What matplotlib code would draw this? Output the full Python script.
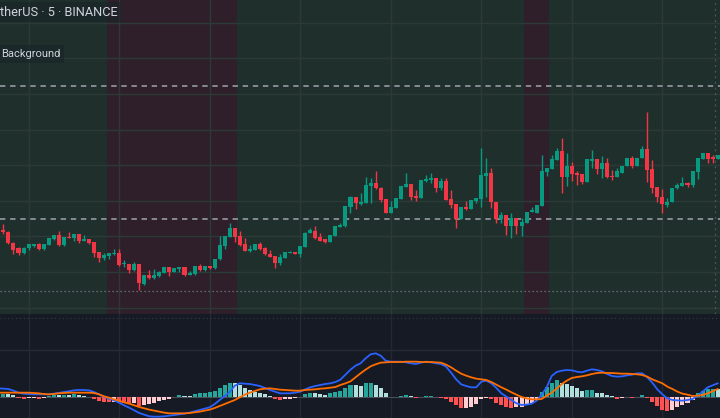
import numpy as np
import matplotlib
matplotlib.use("Agg")
import matplotlib.pyplot as plt

# ----------------------------- Data -----------------------------
# 5-minute candles (left to right)
opens = [1762, 1770.5, 1768.5, 1757.5, 1752, 1747, 1752, 1754.5, 1756, 1750.7,
         1755.5, 1761, 1765, 1755, 1763.3, 1761.7, 1766, 1759.3, 1761, 1757.7,
         1748, 1742.3, 1744, 1746.5, 1747.3, 1735.7, 1736, 1730, 1736, 1716,
         1725, 1722.3, 1724, 1727.3, 1732.7, 1728.3, 1730.7, 1732.7, 1725.5, 1726,
         1734, 1730, 1734, 1731.7, 1740.7, 1754, 1763.3, 1771.7, 1764, 1756,
         1749, 1750, 1756, 1751.7, 1746.5, 1744, 1737, 1742.5, 1747.3, 1748.3,
         1746, 1753.3, 1767.3, 1769.3, 1762.7, 1760.7, 1758.3, 1764.3, 1773.3, 1774.5,
         1793, 1803.3, 1796, 1797.5, 1814.5, 1817.3, 1812, 1800.7, 1787.3, 1792.5,
         1801, 1813.3, 1815.7, 1804.3, 1802.3, 1819, 1820, 1822.3, 1812, 1819,
         1801, 1795.7, 1781, 1793, 1791.3, 1799.5, 1801, 1824.3, 1826.7, 1798.3,
         1781, 1785, 1774, 1782.3, 1774.5, 1777.3, 1788, 1787.5, 1794.3, 1828.3,
         1831, 1840, 1849, 1823.3, 1834, 1827.3, 1826, 1818.3, 1839.5, 1840.7,
         1831, 1837.3, 1824, 1823.3, 1827.3, 1834, 1841.7, 1834.3, 1842.3, 1851,
         1831, 1812.7, 1803.3, 1795, 1798.3, 1811.7, 1814.3, 1816.7, 1815, 1828.3,
         1841.3, 1847.3, 1842.7, 1841.3]
highs = [1771, 1776, 1769, 1758, 1753, 1753, 1756.5, 1756.5, 1757, 1756.5,
         1762, 1765.5, 1769, 1763, 1768, 1766.5, 1766.5, 1765.3, 1761.5, 1758,
         1748.5, 1747.3, 1747.5, 1750.7, 1750.7, 1740.5, 1736.5, 1738, 1736.5, 1725.5,
         1730, 1730.7, 1729, 1733, 1733, 1732, 1733, 1733, 1729.3, 1734.5,
         1736, 1734.5, 1734.5, 1741, 1764, 1764.5, 1777, 1772, 1769.3, 1761.7,
         1755, 1756.5, 1758.3, 1753, 1750, 1744.5, 1746.5, 1748.5, 1749, 1748.5,
         1754.5, 1768.3, 1772.3, 1774, 1767.3, 1761, 1765.5, 1774.5, 1777.3, 1794,
         1804, 1803.5, 1807, 1822.7, 1821.7, 1829.3, 1813.3, 1801, 1799.3, 1802,
         1814.5, 1827.3, 1816, 1810, 1820.5, 1825, 1827.3, 1822.5, 1821.7, 1821.7,
         1810.3, 1796, 1793.5, 1799, 1800.5, 1802.5, 1852.3, 1842, 1831.7, 1798.5,
         1788, 1785.5, 1786.7, 1782.5, 1781.7, 1788.5, 1792.7, 1795.5, 1845, 1832.5,
         1845, 1852, 1861.7, 1847, 1838.3, 1829, 1826, 1841, 1850, 1841,
         1844, 1841.7, 1830, 1831.7, 1834.5, 1842, 1844, 1842.5, 1854, 1888.3,
         1840, 1813, 1810.7, 1801.7, 1812.5, 1816.7, 1822.7, 1818.3, 1829, 1842.5,
         1847.5, 1847.5, 1845, 1845]
lows = [1761, 1766, 1756, 1746, 1745, 1746.5, 1750, 1753, 1750.5, 1750.5,
        1755, 1760.5, 1754.5, 1754.5, 1762, 1759.3, 1756.7, 1759, 1756.5, 1743,
        1738.3, 1740, 1740.7, 1745, 1734.5, 1733.3, 1727.3, 1729.5, 1710, 1715,
        1720.7, 1720.7, 1723.5, 1727, 1724, 1728, 1728.3, 1724.5, 1725, 1725.5,
        1729.5, 1729.5, 1731.5, 1731.5, 1740.5, 1750.7, 1763, 1758.3, 1754.5, 1749,
        1748.5, 1749.7, 1750.5, 1745.5, 1743, 1732.5, 1735, 1742.3, 1746.7, 1746,
        1743.3, 1753, 1767, 1761.5, 1759, 1757.3, 1758, 1764, 1773, 1773.5,
        1787.3, 1790.7, 1795, 1797, 1797.3, 1811.5, 1798, 1787, 1787, 1792.3,
        1800.7, 1813, 1800.3, 1799, 1802, 1818.5, 1816.7, 1808.3, 1810, 1799.7,
        1792, 1772, 1780.7, 1790.5, 1791, 1797.5, 1793.3, 1803, 1791.7, 1777.3,
        1777, 1765, 1761.7, 1766, 1764.5, 1777, 1787.7, 1787.3, 1794, 1824,
        1830.7, 1839.7, 1807, 1814, 1819.3, 1815.3, 1816, 1818, 1832, 1826,
        1821.7, 1822.5, 1820, 1823, 1827, 1833.7, 1831.7, 1834, 1842, 1818.3,
        1807.3, 1798.3, 1786.7, 1793.3, 1798, 1811.5, 1814, 1813.3, 1812.7, 1820.7,
        1841, 1837.3, 1836.7, 1841]
closes = [1770, 1768, 1757, 1750, 1747, 1752.5, 1756, 1756, 1751, 1756,
          1761.7, 1765, 1755, 1762.7, 1762.3, 1766, 1759, 1761.5, 1757, 1747.3,
          1742.3, 1745, 1747.3, 1747.3, 1735, 1736.5, 1730, 1736, 1716.7, 1725,
          1722, 1725, 1728.3, 1732.7, 1728.3, 1731.7, 1732.7, 1725, 1727.5, 1734,
          1730, 1734, 1732, 1740.7, 1755, 1764, 1771.7, 1763.3, 1755, 1749.3,
          1751, 1756, 1750.7, 1745.7, 1743.3, 1737.3, 1743.3, 1748, 1748.3, 1746.3,
          1754, 1767.5, 1770, 1761.7, 1759.3, 1758.5, 1765, 1774, 1775, 1793.7,
          1803.3, 1796.7, 1798.3, 1815.5, 1816.7, 1812, 1800, 1787.3, 1793.3, 1801.7,
          1814, 1815.7, 1803.5, 1802.3, 1820, 1821, 1822.5, 1812, 1819, 1800,
          1795, 1781, 1793.3, 1791, 1800, 1802.3, 1825, 1826.7, 1798, 1781.5,
          1785, 1774, 1781.7, 1774.5, 1778.3, 1788.3, 1790, 1795, 1829, 1832,
          1840.7, 1849, 1823.3, 1834, 1826, 1825, 1818.3, 1840.7, 1841.3, 1830.7,
          1837.3, 1822.7, 1822.7, 1829, 1834.3, 1841.7, 1834.3, 1842.3, 1851, 1830,
          1812.3, 1803.3, 1795.7, 1798.3, 1812.3, 1815, 1816.7, 1815, 1829, 1842.3,
          1847.3, 1841, 1841.3, 1844.7]

# MACD (12, 26, 9) pane, arbitrary units
macd_line = [25, 24, 23, 18, 12, 9, 8, 7, 7, 7,
             7, 9, 11, 14, 16, 19, 20, 20, 19, 14,
             7, 0, -6, -11, -18, -26, -33, -41, -49, -54,
             -59, -60, -60, -59, -57, -55, -53, -51, -48, -44,
             -40, -36, -32, -22, -10, 2, 14, 33, 40, 39,
             38, 35, 32, 26, 20, 15, 10, 10, 10, 12,
             15, 22, 28, 32, 35, 38, 40, 44, 51, 66,
             81, 93, 100, 115, 127, 130, 123, 108, 105, 105,
             105, 103, 100, 98, 102, 105, 103, 100, 98, 90,
             72, 52, 37, 32, 28, 28, 45, 48, 40, 26,
             10, 0, -10, -20, -25, -24, -21, -12, 6, 28,
             62, 74, 78, 80, 79, 75, 73, 78, 82, 80,
             76, 68, 62, 60, 61, 64, 66, 70, 70, 58,
             42, 22, 7, -5, -10, -11, -12, -10, -7, 2,
             15, 28, 34, 40]
signal_line = [12, 12, 12, 12, 12, 12, 12, 11, 10, 8,
               7, 8, 10, 11, 12, 12, 12, 12, 12, 11,
               7, 1, -3, -8, -12, -17, -21, -26, -31, -35,
               -39, -42, -45, -48, -50, -50, -50, -50, -49, -47,
               -45, -42, -39, -34, -28, -22, -16, -10, -2, 6,
               12, 17, 22, 24, 25, 23, 21, 20, 19, 18,
               18, 20, 21, 22, 24, 25, 27, 29, 35, 40,
               46, 58, 70, 81, 91, 97, 102, 103, 104, 104,
               104, 105, 105, 105, 104, 104, 104, 103, 102, 96,
               88, 78, 69, 63, 58, 54, 52, 50, 44, 36,
               28, 21, 13, 6, -1, -5, -8, -8, -7, 3,
               12, 24, 38, 48, 56, 59, 61, 64, 68, 71,
               72, 71, 71, 70, 69, 69, 68, 67, 65, 60,
               52, 46, 40, 30, 23, 15, 9, 6, 2, 3,
               5, 10, 16, 23]
histogram = [6, 8, 7, 4, -3, -6, -5, -4, -6, -3,
             3, 5, 4, 6, 5, 8, 5, 3, -2, -8,
             -13, -15, -16, -15, -18, -20, -21, -20, -28, -25,
             -22, -18, -14, -10, -8, -2, 4, 3.5, 3, 8,
             10, 10.5, 14, 18, 26, 34, 42, 41, 35, 25,
             20, 15, 12, 7, 3, -8, -10, -8, -6, -5,
             -1, 8, 12, 11, 8, 6, 10, 14, 18, 25,
             35, 34, 32, 40, 41, 35, 25, 10, -1, -2,
             3, 5, 1, -3, -1, 2, 3, -2, -3, -8,
             -16, -26, -35, -33, -30, -22, -8, -4, -8, -18,
             -26, -30, -33, -32, -30, -25, -18, -10, 14, 28,
             42, 50, 42, 38, 32, 25, 18, 20, 20.5, 12,
             11, 6, 1, -6, -3, -2, -4, -1, 5, -4,
             -15, -28, -40, -43, -40, -32, -26, -20, -10, 10,
             18, 22, 22.5, 22]

# bars painted with the red background (first, last index)
red_bg_ranges = [(22, 47), (105, 109)]
dashed_levels = [1914, 1781]
dotted_levels = [1709]

title = "therUS · 5 · BINANCE"
bg_label = "Background"

# ----------------------------- Style -----------------------------
UP, DOWN = "#089981", "#f23645"
BG_GREEN, BG_RED, BG_PANE = "#1f2f2b", "#2e1f2a", "#161a25"
GRID = "#2c3a37"
HIST_COLORS = {"up_strong": "#26a69a", "up_weak": "#b2dfdb",
               "down_weak": "#ffcdd2", "down_strong": "#ff5252"}


def hist_colors(h):
    """TradingView-style histogram colouring: strong when growing away from zero."""
    cols = []
    prev = h[0]
    for v in h:
        if v >= 0:
            cols.append(HIST_COLORS["up_strong"] if v > prev else HIST_COLORS["up_weak"])
        else:
            cols.append(HIST_COLORS["down_strong"] if v < prev else HIST_COLORS["down_weak"])
        prev = v
    return cols


def draw_candles(ax, x):
    o, h, l, c = map(np.asarray, (opens, highs, lows, closes))
    col = np.where(c >= o, UP, DOWN)
    ax.vlines(x, l, h, colors=col, lw=1.0, zorder=3)
    body_lo = np.minimum(o, c)
    body_h = np.maximum(np.abs(c - o), 0.9)
    ax.bar(x, body_h, bottom=body_lo, width=0.8, color=col, lw=0, zorder=4)


# ----------------------------- Plot -----------------------------
x = np.arange(len(closes))
xlim = (0.32, 143.46)
vgrid = x[6::18]

fig = plt.figure(figsize=(7.2, 4.18), dpi=100)
fig.patch.set_facecolor(BG_PANE)
ax = fig.add_axes([0, 104 / 418, 1, 314 / 418])
axm = fig.add_axes([0, 0, 1, 104 / 418])

# main pane
ax.set_facecolor(BG_GREEN)
for a, b in red_bg_ranges:
    ax.axvspan(a - 0.5, b + 0.5, color=BG_RED, lw=0, zorder=0)
for p in np.arange(1692.4, 2000, 35.6):
    ax.axhline(p, color=GRID, lw=1, zorder=1)
for v in vgrid:
    ax.axvline(v, color=GRID, lw=1, zorder=1)
for p in dashed_levels:
    ax.axhline(p, color="#8e9199", lw=1.3, ls=(0, (3, 2.6)), zorder=2)
for p in dotted_levels:
    ax.axhline(p, color="#7c7f88", lw=0.9, ls=(0, (1, 2.2)), zorder=2)
ax.axvline(142.55, color="#6f737c", lw=0.9, ls=(0, (1.5, 3)), alpha=0.6, zorder=2)
draw_candles(ax, x)
ax.set_xlim(*xlim)
ax.set_ylim(1686, 2000)

# legend labels in the top-left corner
fig.text(0 / 720, 1 - 12 / 418, title, color="#d1d4dc", fontsize=9.2,
         family="Roboto", va="center", ha="left",
         bbox=dict(boxstyle="square,pad=0.3", fc="#19242a", ec="none", alpha=0.6))
fig.text(1 / 720, 1 - 54 / 418, bg_label, color="#d1d4dc", fontsize=8.0,
         family="Roboto", va="center", ha="left",
         bbox=dict(boxstyle="square,pad=0.35", fc="#19242a", ec="none", alpha=0.6))

# MACD pane
axm.set_facecolor(BG_PANE)
axm.axhline(140, color="#262b36", lw=1, zorder=1)
for v in vgrid:
    axm.axvline(v, color="#232834", lw=1, zorder=1)
axm.axhline(236, color="#3a3f4a", lw=0.8, ls=(0, (1, 2.5)), zorder=1)
axm.axhline(0, color="#4a4e58", lw=0.8, zorder=1)
axm.bar(x, histogram, width=0.8, color=hist_colors(histogram), lw=0, zorder=2)
axm.plot(x, macd_line, color="#2962ff", lw=1.3, zorder=3)
axm.plot(x, signal_line, color="#ff6d00", lw=1.3, zorder=3)
axm.set_xlim(*xlim)
axm.set_ylim(-64, 248)

for a in (ax, axm):
    a.set_xticks([])
    a.set_yticks([])
    for s in a.spines.values():
        s.set_visible(False)

fig.savefig("out.png", dpi=100, facecolor=fig.get_facecolor())
